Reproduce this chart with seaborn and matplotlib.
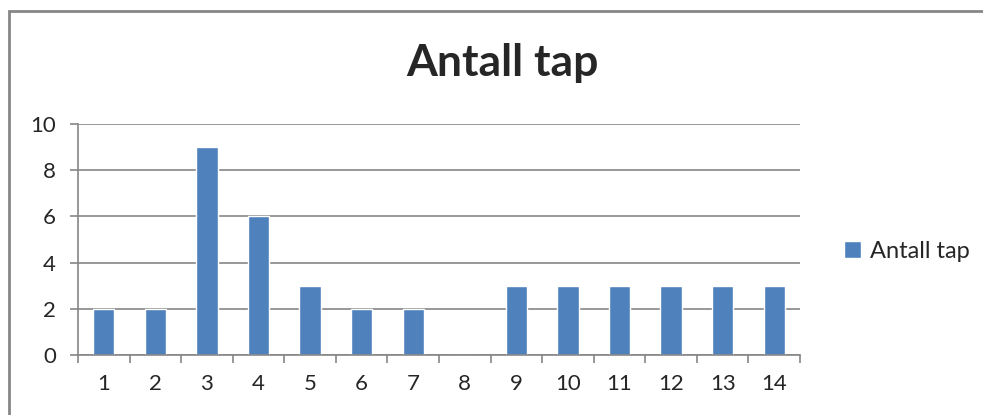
import numpy as np
import pandas as pd
import seaborn as sns
import matplotlib
matplotlib.use("Agg")
import matplotlib.pyplot as plt
from matplotlib.patches import Rectangle
from matplotlib.ticker import FixedLocator

categories = [str(i) for i in range(1, 15)]
values = [2, 2, 9, 6, 3, 2, 2, 0, 3, 3, 3, 3, 3, 3]
series_name = "Antall tap"
title = "Antall tap"

bar_color = "#4F81BD"
grid_color = "#868686"

sns.set_style("white")
plt.rcParams['font.family'] = ['Lato', 'DejaVu Sans']

df = pd.DataFrame({"kat": categories, "verdi": values})

fig = plt.figure(figsize=(9.83, 4.15), dpi=100)
ax = fig.add_axes([78 / 983, 60 / 415, 722 / 983, 231 / 415])

sns.barplot(data=df, x="kat", y="verdi", color=bar_color, width=0.41,
            saturation=1, ax=ax, label=series_name)

ax.set_xlim(-0.5, len(categories) - 0.5)
ax.set_ylim(0, 10)
ax.set_yticks(np.arange(0, 11, 2))
ax.yaxis.grid(True, color=grid_color, linewidth=1.2)
ax.set_axisbelow(True)
ax.set_xlabel("")
ax.set_ylabel("")

for side in ["top", "right"]:
    ax.spines[side].set_visible(False)
for side in ["left", "bottom"]:
    ax.spines[side].set_color(grid_color)
    ax.spines[side].set_linewidth(1.2)

ax.tick_params(axis="x", which="major", bottom=True, length=0, labelsize=16, pad=14)
ax.xaxis.set_minor_locator(FixedLocator(np.arange(-0.5, len(categories), 1)))
ax.tick_params(axis="x", which="minor", bottom=True, length=6, width=1.2, color=grid_color)
ax.tick_params(axis="y", left=True, length=6, width=1.2, color=grid_color,
               labelsize=16, pad=10)

fig.text(502 / 983, 1 - 63 / 415, title, fontsize=32, fontweight="bold",
         ha="center", va="center")

ax.legend(loc="center left", bbox_to_anchor=(835 / 722 - 78 / 722, 0.45),
          frameon=False, fontsize=17, handlelength=0.7, handleheight=0.7,
          handletextpad=0.4, borderaxespad=0)

fig.patches.append(Rectangle((8.5 / 983, -0.1), 1.2, 1 - 11.5 / 415 + 0.1,
                             transform=fig.transFigure, fill=False,
                             edgecolor=grid_color, linewidth=2))

fig.savefig("out.png", dpi=100)
